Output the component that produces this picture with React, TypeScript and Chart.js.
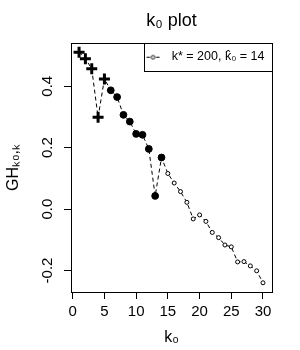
import React, { useEffect, useRef } from 'react';
import { Chart, registerables } from 'chart.js';

Chart.register(...registerables);

// ---- data ----
const k0: number[] = [1, 2, 3, 4, 5, 6, 7, 8, 9, 10, 11, 12, 13, 14, 15, 16, 17, 18, 19, 20, 21, 22, 23, 24, 25, 26, 27, 28, 29, 30];
const GH: number[] = [
  0.511, 0.490, 0.457, 0.299, 0.424, 0.387, 0.365, 0.307, 0.285, 0.245,
  0.242, 0.196, 0.043, 0.168, 0.116, 0.085, 0.057, 0.022, -0.032, -0.019,
  -0.040, -0.076, -0.093, -0.117, -0.123, -0.172, -0.171, -0.185, -0.201, -0.240,
];
// point group: 'plus' (bold cross), 'dot' (filled), 'open' (small open circle)
const markerGroup: string[] = [
  'plus', 'plus', 'plus', 'plus', 'plus',
  'dot', 'dot', 'dot', 'dot', 'dot', 'dot', 'dot', 'dot', 'dot',
  'open', 'open', 'open', 'open', 'open', 'open', 'open', 'open',
  'open', 'open', 'open', 'open', 'open', 'open', 'open', 'open',
];
const xTicks: number[] = [0, 5, 10, 15, 20, 25, 30];
const xTickLabels: string[] = ['0', '5', '10', '15', '20', '25', '30'];
const yTicks: number[] = [-0.2, 0, 0.2, 0.4];
const yTickLabels: string[] = ['-0.2', '0.0', '0.2', '0.4'];
const xRange: number[] = [-0.27, 31.42];
const yRange: number[] = [-0.27, 0.541];
const chartTitle = 'k\u2080 plot';
const xTitle = 'k\u2080';
const yTitle = 'GH\u2096\u2080,\u2096';
const legendLabel = 'k* = 200, k\u0302\u2080 = 14';

const FONT = "'Liberation Sans', Arial, Helvetica, sans-serif";

export default function App() {
  const ref = useRef<HTMLCanvasElement | null>(null);

  useEffect(() => {
    document.body.style.margin = '0';
    const canvas = ref.current;
    if (!canvas) return;

    // legend sample: dashed line with a small open circle
    const sample = document.createElement('canvas');
    sample.width = 28;
    sample.height = 8;
    const s = sample.getContext('2d');
    if (s) {
      s.strokeStyle = '#000';
      s.lineWidth = 1;
      s.beginPath();
      s.moveTo(2, 4.5);
      s.lineTo(5.5, 4.5);
      s.moveTo(11.5, 4.5);
      s.lineTo(15, 4.5);
      s.stroke();
      s.beginPath();
      s.arc(8.5, 4.5, 1.8, 0, Math.PI * 2);
      s.stroke();
    }

    const framePlugin = {
      id: 'frame',
      afterLayout(chart: any) {
        const lg = chart.legend;
        const area = chart.chartArea;
        if (!lg || !lg.legendHitBoxes || !lg.legendHitBoxes.length) return;
        const pad = lg.options.labels.padding;
        const hb = lg.legendHitBoxes[0];
        const w = hb.width + 2 * pad;
        const h = hb.height + 2 * pad;
        lg.left = area.right - w;
        lg.right = area.right;
        lg.width = w;
        lg.top = area.top;
        lg.bottom = area.top + h;
        lg.height = h;
      },
      afterDraw(chart: any) {
        const ctx = chart.ctx;
        const a = chart.chartArea;
        ctx.save();
        ctx.strokeStyle = '#000';
        ctx.lineWidth = 1;
        ctx.setLineDash([]);
        ctx.strokeRect(Math.round(a.left) + 0.5, Math.round(a.top) + 0.5, Math.round(a.right - a.left), Math.round(a.bottom - a.top));
        const lg = chart.legend;
        if (lg) {
          ctx.strokeRect(Math.round(lg.left) + 0.5, Math.round(lg.top) + 0.5, Math.round(lg.width), Math.round(lg.height));
        }
        ctx.restore();
      },
    };

    const chart = new Chart(canvas, {
      type: 'line',
      data: {
        datasets: [
          {
            label: legendLabel,
            data: k0.map((k, i) => ({ x: k, y: GH[i] })),
            borderColor: '#000',
            borderWidth: 1,
            borderDash: [4, 3],
            fill: false,
            tension: 0,
            pointStyle: (c: any) => (markerGroup[c.dataIndex] === 'plus' ? 'cross' : 'circle'),
            pointRadius: (c: any) => {
              const g = markerGroup[c.dataIndex];
              return g === 'plus' ? 5.5 : g === 'dot' ? 3.4 : 2;
            },
            pointBorderWidth: (c: any) => (markerGroup[c.dataIndex] === 'plus' ? 3 : 1),
            pointBackgroundColor: (c: any) => (markerGroup[c.dataIndex] === 'open' ? '#fff' : '#000'),
            pointBorderColor: '#000',
          } as any,
        ],
      },
      options: {
        animation: false,
        responsive: false,
        devicePixelRatio: 1,
        events: [],
        layout: { padding: { left: 0, right: 28, top: 0, bottom: 0 } },
        scales: {
          x: {
            type: 'linear',
            min: xRange[0],
            max: xRange[1],
            afterBuildTicks: (axis: any) => {
              axis.ticks = xTicks.map((v) => ({ value: v }));
            },
            afterFit: (axis: any) => {
              axis.height = 58;
            },
            ticks: {
              autoSkip: false,
              maxRotation: 0,
              minRotation: 0,
              padding: 4,
              color: '#000',
              font: { family: FONT, size: 15 },
              callback: (_v: any, i: number) => xTickLabels[i],
            },
            grid: { drawOnChartArea: false, drawTicks: true, tickLength: 7, color: '#000', tickColor: '#000', tickWidth: 1 },
            border: { display: true, color: '#000', width: 1 },
            title: { display: true, text: xTitle, color: '#000', font: { family: FONT, size: 16 }, padding: { top: 0, bottom: 3 } },
          },
          y: {
            type: 'linear',
            min: yRange[0],
            max: yRange[1],
            afterBuildTicks: (axis: any) => {
              axis.ticks = yTicks.map((v) => ({ value: v }));
            },
            afterFit: (axis: any) => {
              axis.width = 71;
            },
            ticks: {
              autoSkip: false,
              minRotation: 90,
              maxRotation: 90,
              crossAlign: 'center',
              padding: 3,
              color: '#000',
              font: { family: FONT, size: 15 },
              callback: (_v: any, i: number) => yTickLabels[i],
            },
            grid: { drawOnChartArea: false, drawTicks: true, tickLength: 7, color: '#000', tickColor: '#000', tickWidth: 1 },
            border: { display: true, color: '#000', width: 1 },
            title: { display: true, text: yTitle, color: '#000', font: { family: FONT, size: 16 }, padding: { top: 4, bottom: 0 } },
          },
        },
        plugins: {
          tooltip: { enabled: false },
          title: {
            display: true,
            fullSize: false,
            text: chartTitle,
            color: '#000',
            font: { family: FONT, size: 18, weight: 'normal', lineHeight: 1.2 },
            padding: { top: 10, bottom: 11.4 },
          },
          legend: {
            display: true,
            position: 'chartArea',
            align: 'start',
            labels: {
              usePointStyle: true,
              pointStyleWidth: 14,
              padding: 7.5,
              color: '#000',
              font: { family: FONT, size: 12.5, lineHeight: 1.2 },
              generateLabels: () => [
                {
                  text: legendLabel,
                  pointStyle: sample,
                  fillStyle: '#fff',
                  strokeStyle: '#000',
                  lineWidth: 1,
                  hidden: false,
                  datasetIndex: 0,
                  fontColor: '#000',
                } as any,
              ],
            },
          },
        },
      } as any,
      plugins: [framePlugin],
    });

    return () => {
      chart.destroy();
    };
  }, []);

  return (
    <div style={{ position: 'absolute', left: 0, top: 0, width: 300, height: 350 }}>
      <canvas ref={ref} width={300} height={350} style={{ width: 300, height: 350 }} />
    </div>
  );
}
